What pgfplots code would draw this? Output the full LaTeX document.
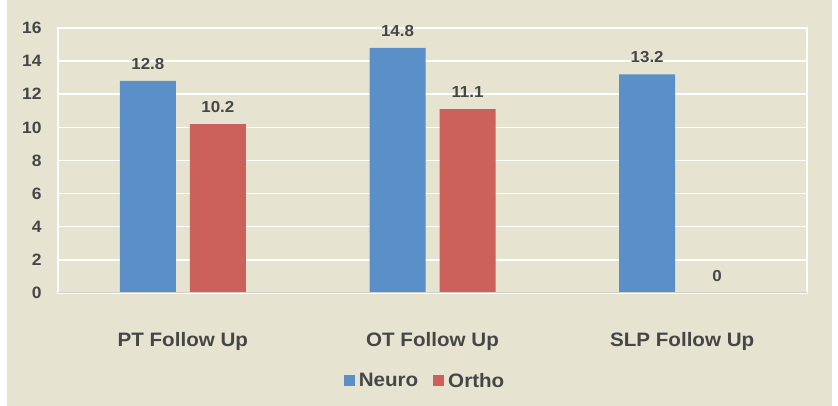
\documentclass[border=0pt]{standalone}
\usepackage{pgfplots}
\pgfplotsset{compat=1.18}
\usepackage{fontspec}
\newfontfamily\cf{Liberation Sans}[FakeStretch=1.06]
\definecolor{bg}{RGB}{230,228,209}
\definecolor{neuro}{RGB}{91,143,199}
\definecolor{ortho}{RGB}{204,97,91}
\definecolor{txt}{RGB}{70,70,70}
\definecolor{basegrey}{RGB}{208,208,208}
\begin{document}
\begin{tikzpicture}
\fill[white] (0bp,0bp) rectangle (838bp,406bp);
\fill[bg] (7bp,0bp) rectangle (832bp,400bp);
\fill[bg] (7bp,0bp) rectangle (832bp,406bp);
\begin{axis}[
  at={(58bp,113bp)}, anchor=south west,
  width=749bp, height=265bp, scale only axis,
  xmin=-0.5, xmax=2.5, ymin=0, ymax=16,
  ybar=14bp, bar width=56bp,
  xtick={0,1,2},
  xticklabels={PT Follow Up, OT Follow Up, SLP Follow Up},
  ytick={0,2,...,16},
  major tick length=0pt,
  ymajorgrids, grid style={white, line width=1.5bp},
  axis line style={white, line width=1.5bp},
  /pgf/number format/assume math mode=true,
  /pgf/number format/fixed, /pgf/number format/precision=1,
  yticklabel style={font=\cf\bfseries\fontsize{16.5}{19}\selectfont, text=txt, xshift=-13bp},
  xticklabel style={font=\cf\bfseries\fontsize{19.5}{23}\selectfont, text=txt, anchor=north, yshift=-36bp},
  nodes near coords,
  every node near coord/.append style={font=\cf\bfseries\fontsize{16}{19}\selectfont, text=txt, yshift=8bp},
  legend style={at={(0.49,-0.332)}, anchor=center, draw=none, fill=none,
    legend columns=2, font=\cf\bfseries\fontsize{19.5}{22}\selectfont, text=txt,
    /tikz/every even column/.append style={column sep=13bp}},
  legend image code/.code={\fill[#1] (0bp,-5.5bp) rectangle (11bp,5.5bp); \path (13bp,0bp);},
]
\addplot[fill=neuro, draw=none] coordinates {(0,12.8) (1,14.8) (2,13.2)};
\addplot[fill=ortho, draw=none] coordinates {(0,10.2) (1,11.1) (2,0)};
\legend{Neuro, Ortho}
\draw[basegrey, line width=2bp] (rel axis cs:0,0) -- (rel axis cs:1,0);
\end{axis}
\end{tikzpicture}
\end{document}
